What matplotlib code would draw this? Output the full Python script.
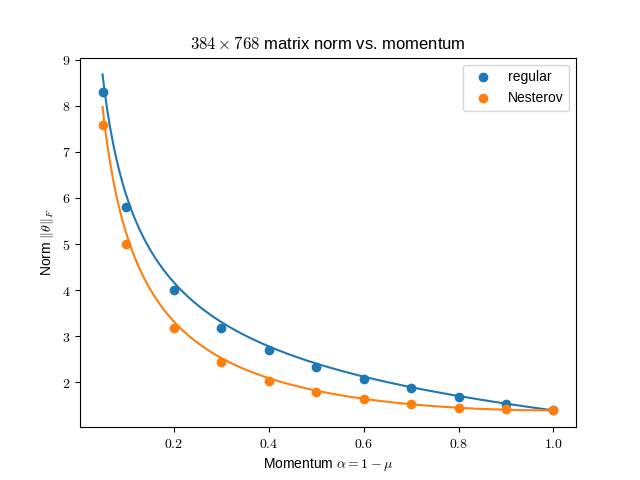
import matplotlib
matplotlib.use("Agg")
import matplotlib.pyplot as plt
import numpy as np

plt.rcParams["mathtext.fontset"] = "cm"
plt.rcParams["font.family"] = ["Liberation Sans", "DejaVu Sans"]

# momentum alpha = 1 - mu, measured norms
alpha = [0.05, 0.1, 0.2, 0.3, 0.4, 0.5, 0.6, 0.7, 0.8, 0.9, 1.0]
regular = [8.30, 5.80, 4.00, 3.17, 2.70, 2.33, 2.07, 1.87, 1.68, 1.53, 1.39]
nesterov = [7.58, 5.00, 3.18, 2.43, 2.03, 1.80, 1.63, 1.52, 1.45, 1.42, 1.39]

# theory: norm ~ sqrt(long-run variance / per-step variance of the update),
# scaled so that alpha = 1 (plain SGD) matches the measured norm
a = np.linspace(alpha[0], alpha[-1], 300)
mu = 1 - a
longrun = 1 / (1 - mu) ** 2
step_reg = 1 / (1 - mu ** 2)
step_nes = (1 + mu) ** 2 + mu ** 4 / (1 - mu ** 2)
theory_reg = regular[-1] * np.sqrt(longrun / step_reg)
theory_nes = nesterov[-1] * np.sqrt(longrun / step_nes)

fig, ax = plt.subplots(figsize=(6.4, 4.8), dpi=100)

ax.scatter(alpha, regular, color="C0", label="regular", zorder=3)
ax.plot(a, theory_reg, color="C0")
ax.scatter(alpha, nesterov, color="C1", label="Nesterov", zorder=3)
ax.plot(a, theory_nes, color="C1")

ax.set_title(r"$384\times768$ matrix norm vs. momentum")
ax.set_xlabel(r"Momentum $\alpha=1-\mu$")
ax.set_ylabel(r"Norm $\|\theta\|_F$")
ax.xaxis.set_major_formatter(matplotlib.ticker.FuncFormatter(lambda v, p: r"$%.1f$" % v))
ax.yaxis.set_major_formatter(matplotlib.ticker.FuncFormatter(lambda v, p: r"$%d$" % v))
ax.legend(loc="upper right")

fig.savefig("out.png")
